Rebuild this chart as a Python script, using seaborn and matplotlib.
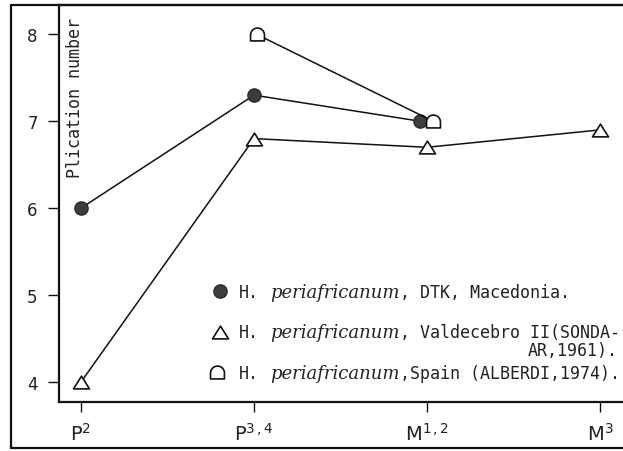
import numpy as np
import pandas as pd
import matplotlib
matplotlib.use("Agg")
import matplotlib.pyplot as plt
from matplotlib.path import Path
from matplotlib.lines import Line2D
import seaborn as sns

# ---- data -------------------------------------------------------------
teeth = [r"P$^{2}$", r"P$^{3\,{,}\,4}$", r"M$^{1\,{,}\,2}$", r"M$^{3}$"]
yticks = [4, 5, 6, 7, 8]

macedonia_pos = [0, 1, 2]
macedonia_val = [6.0, 7.3, 7.0]

valdecebro_pos = [0, 1, 2, 3]
valdecebro_val = [4.0, 6.8, 6.7, 6.9]

spain_pos = [1, 2]
spain_val = [8.0, 7.0]

species = "periafricanum"
legend_rows = [
    ("H.", ", DTK, Macedonia."),
    ("H.", ", Valdecebro II(SONDA-"),
    ("H.", ",Spain (ALBERDI,1974)."),
]
legend_wrap = "AR,1961)."

# ---- style ------------------------------------------------------------
sns.set_style("ticks")
plt.rcParams["font.family"] = ["DejaVu Sans"]
plt.rcParams["mathtext.fontset"] = "custom"
plt.rcParams["mathtext.rm"] = "DejaVu Sans"
plt.rcParams["mathtext.it"] = "DejaVu Sans:italic"

INK = "#111111"
TXT = "#222222"

# marker shapes
theta = np.linspace(0, np.pi, 40)
dome_verts = np.column_stack([np.cos(theta), np.sin(theta)])
dome_verts = np.vstack([dome_verts, [[-1, -0.85], [1, -0.85], [1, 0.0]]])
dome_verts[:, 1] -= 0.075
DOME = Path(dome_verts, closed=True)
TRI = Path([[0, 0.8], [-1, -0.8], [1, -0.8], [0, 0.8]], closed=True)

# small horizontal dodge where markers would overlap
dodge = {"mac": {2: -0.04}, "spa": {1: 0.015, 2: 0.035}}


def shifted(pos, key):
    return [p + dodge.get(key, {}).get(p, 0.0) for p in pos]


W, H = 623, 452
fig = plt.figure(figsize=(W / 100, H / 100), dpi=100)
AX_L, AX_B, AX_T = 58.5, 403, 6
ax = fig.add_axes([AX_L / W, (H - AX_B) / H, 1 - AX_L / W, (AX_B - AX_T) / H])


def px2ax(px, py):
    """pixel position (from the top-left corner) -> axes fraction"""
    return (px - AX_L) / (W - AX_L), (AX_B - py) / (AX_B - AX_T)


series = [
    ("mac", macedonia_pos, macedonia_val,
     dict(marker="o", markersize=9.5, markerfacecolor="#3d3d3d",
          markeredgecolor="#2a2a2a", markeredgewidth=1.0)),
    ("val", valdecebro_pos, valdecebro_val,
     dict(marker=TRI, markersize=11.5, markerfacecolor="white",
          markeredgecolor=INK, markeredgewidth=1.2)),
    ("spa", spain_pos, spain_val,
     dict(marker=DOME, markersize=10, markerfacecolor="white",
          markeredgecolor=INK, markeredgewidth=1.2)),
]

for key, pos, val, mstyle in series:
    df = pd.DataFrame({"x": shifted(pos, key), "y": val})
    sns.lineplot(data=df, x="x", y="y", ax=ax, color=INK,
                 linewidth=1.1, sort=False, **mstyle)

ax.set_xlim(-0.130, 3.133)
ax.set_ylim(3.77, 8.337)
ax.set_xticks(range(len(teeth)))
ax.set_xticklabels(teeth, fontsize=14)
ax.set_yticks(yticks)
ax.set_yticklabels([str(t) for t in yticks], fontsize=12)
ax.set_xlabel("")
ax.set_ylabel("")
ax.tick_params(axis="y", direction="out", length=8, width=1.0, pad=7,
               color=INK, labelcolor=TXT)
ax.tick_params(axis="x", direction="out", length=7, width=1.0, pad=7,
               color=INK, labelcolor=TXT)

for side in ["left", "bottom", "top"]:
    ax.spines[side].set_linewidth(1.6)
    ax.spines[side].set_color(INK)
ax.spines["right"].set_visible(False)

lx, ly = px2ax(75, 18)
ax.text(lx, ly, "Plication number", rotation=90, ha="center",
        va="top", transform=ax.transAxes, family="DejaVu Sans Mono",
        fontsize=12, color=TXT)

# legend, drawn as marker + text rows
mono = dict(family="DejaVu Sans Mono", fontsize=12, color=TXT,
            transform=ax.transAxes, va="baseline", ha="left")
ital = dict(family="DejaVu Serif", style="italic", fontsize=13, color=TXT,
            transform=ax.transAxes, va="baseline", ha="left")

renderer = fig.canvas.get_renderer()
inv = ax.transAxes.inverted()

marker_px = [(220, 292), (220, 333), (217, 373)]
baselines = [298, 338.5, 379]
for (mpx, mpy), base, (pre, post), (_, _, _, mstyle) in zip(
        marker_px, baselines, legend_rows, series):
    mx, my = px2ax(mpx, mpy)
    ax.add_line(Line2D([mx], [my], transform=ax.transAxes,
                       linestyle="none", **mstyle))
    tx, ty = px2ax(239, base)
    ax.text(tx, ty, pre, **mono)
    ix, _ = px2ax(270, base)
    t_it = ax.text(ix, ty, species, **ital)
    x_end = t_it.get_window_extent(renderer).x1
    rx = inv.transform((x_end + 1, 0))[0]
    ax.text(rx, ty, post, **mono)

wx, wy = px2ax(528, 356.5)
ax.text(wx, wy, legend_wrap, **mono)

# outer frame of the figure panel
frame_kw = dict(color=INK, linewidth=1.6, transform=fig.transFigure)
x0, y0, y1 = 10.5 / W, 3 / H, 1 - AX_T / H
fig.add_artist(Line2D([x0, x0], [y0, y1], **frame_kw))
fig.add_artist(Line2D([x0, 1.01], [y0, y0], **frame_kw))
fig.add_artist(Line2D([x0, 1.01], [y1, y1], **frame_kw))

fig.savefig("out.png", dpi=100)
